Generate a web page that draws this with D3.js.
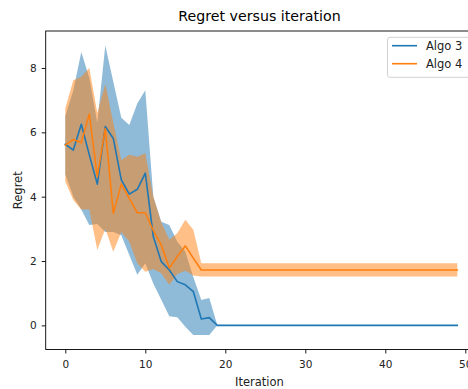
<!DOCTYPE html>
<html>
<head>
<meta charset="utf-8">
<script src="https://cdn.jsdelivr.net/npm/d3@7"></script>
<style>
html,body{margin:0;padding:0;background:#fff;}
svg{display:block;font-family:"DejaVu Sans",sans-serif;}
</style>
</head>
<body>
<svg id="chart" width="468" height="389"></svg>
<script>
// ---- data ----
const iterations = d3.range(0, 50);
const algo3Mean  = [5.63,5.45,6.25,5.3,4.39,6.18,5.81,4.52,4.08,4.23,4.73,2.76,1.98,1.72,1.36,1.26,1.05,0.2,0.24,0];
const algo3Upper = [6.5,7.3,8.5,7.7,6.3,8.7,7.57,6.45,6.23,6.9,7.31,4.0,3.22,3.12,2.6,2.3,1.5,0.79,0.85,0];
const algo3Lower = [4.7,4.0,3.6,3.12,3.15,2.9,2.9,2.8,2.19,1.57,1.93,1.3,0.8,0.28,0.25,-0.04,-0.3,-0.3,-0.3,0];
const algo3Tail  = 0;       // value after convergence (iterations 20..49)
const algo4Mean  = [5.6,5.78,5.68,6.57,4.62,6.12,3.48,4.39,3.95,3.5,3.5,2.95,2.5,1.78,2.14,2.47,2.09,1.72];
const algo4Upper = [6.75,7.62,7.73,8.0,6.6,7.5,6.3,5.14,5.3,5.24,5.35,4.0,3.2,2.66,2.86,3.28,2.97,1.93];
const algo4Lower = [4.47,3.9,3.6,3.6,2.34,3.0,2.29,2.9,2.6,1.93,1.67,1.75,1.62,1.26,1.6,1.7,1.55,1.52];
const algo4Tail  = {mean:1.72, upper:1.93, lower:1.52};
const xTicks = [0,10,20,30,40,50];
const yTicks = [0,2,4,6,8];
const seriesNames = ["Algo 3","Algo 4"];
const colors = ["#1f77b4","#ff7f0e"];

function full(arr, tail){ return iterations.map(i => i < arr.length ? arr[i] : tail); }
const a3m = full(algo3Mean,algo3Tail), a3u = full(algo3Upper,algo3Tail), a3l = full(algo3Lower,algo3Tail);
const a4m = full(algo4Mean,algo4Tail.mean), a4u = full(algo4Upper,algo4Tail.upper), a4l = full(algo4Lower,algo4Tail.lower);
const series = [
  {name: seriesNames[0], color: colors[0], rows: iterations.map(i => ({x:i, m:a3m[i], hi:a3u[i], lo:a3l[i]}))},
  {name: seriesNames[1], color: colors[1], rows: iterations.map(i => ({x:i, m:a4m[i], hi:a4u[i], lo:a4l[i]}))}
];

// ---- layout ----
const svg = d3.select("#chart");
const L = 45.7, R = 476.9, T = 31, B = 349.5;
const x = d3.scaleLinear().domain([-2.45, 51.45]).range([L, R]);
const y = d3.scaleLinear().domain([-0.75, 9.15]).range([B, T]);

svg.append("defs").append("clipPath").attr("id","clip")
  .append("rect").attr("x",L).attr("y",T).attr("width",R-L).attr("height",B-T);

const g = svg.append("g").attr("clip-path","url(#clip)");
const area = d3.area().x(d=>x(d.x)).y0(d=>y(d.lo)).y1(d=>y(d.hi));
const line = d3.line().x(d=>x(d.x)).y(d=>y(d.m));

series.forEach(s => {
  g.append("path").datum(s.rows).attr("d", area)
    .attr("fill", s.color).attr("fill-opacity", 0.5).attr("stroke","none");
});
series.forEach(s => {
  g.append("path").datum(s.rows).attr("d", line)
    .attr("fill","none").attr("stroke", s.color).attr("stroke-width",1.6)
    .attr("stroke-linejoin","round").attr("stroke-linecap","square");
});

// axes
const xAxis = d3.axisBottom(x).tickValues(xTicks).tickSize(4).tickPadding(7).tickFormat(d3.format("d"));
const yAxis = d3.axisLeft(y).tickValues(yTicks).tickSize(4).tickPadding(5).tickFormat(d3.format("d"));
const gx = svg.append("g").attr("transform",`translate(0,${B})`).call(xAxis);
const gy = svg.append("g").attr("transform",`translate(${L},0)`).call(yAxis);
[gx,gy].forEach(a => {
  a.select(".domain").remove();
  a.selectAll(".tick line").attr("stroke","#000").attr("stroke-width",0.9);
  a.selectAll(".tick text").attr("fill","#222").attr("font-size","10.5px")
    .attr("font-family","DejaVu Sans, sans-serif");
});

// frame
svg.append("rect").attr("x",L).attr("y",T).attr("width",R-L).attr("height",B-T)
  .attr("fill","none").attr("stroke","#000").attr("stroke-width",0.9);

// title and labels
svg.append("text").attr("x",259.5).attr("y",20.5).attr("text-anchor","middle")
  .attr("font-size","14.2px").attr("fill","#000").text("Regret versus iteration");
svg.append("text").attr("x",259.5).attr("y",386).attr("text-anchor","middle")
  .attr("font-size","11.5px").attr("fill","#222").text("Iteration");
svg.append("text").attr("transform",`translate(21.5,${(T+B)/2}) rotate(-90)`).attr("text-anchor","middle")
  .attr("font-size","11.5px").attr("fill","#222").text("Regret");

// legend
const lg = svg.append("g");
lg.append("rect").attr("x",387.5).attr("y",37.3).attr("width",90).attr("height",40).attr("rx",2.5)
  .attr("fill","#fff").attr("fill-opacity",0.8).attr("stroke","#ccc").attr("stroke-width",0.9);
series.forEach((s,i) => {
  const yy = 45.7 + i*18;
  lg.append("line").attr("x1",392).attr("x2",417).attr("y1",yy).attr("y2",yy)
    .attr("stroke",s.color).attr("stroke-width",1.6);
  lg.append("text").attr("x",426).attr("y",yy+4.2).attr("font-size","11.5px").attr("fill","#222").text(s.name);
});
</script>
</body>
</html>
